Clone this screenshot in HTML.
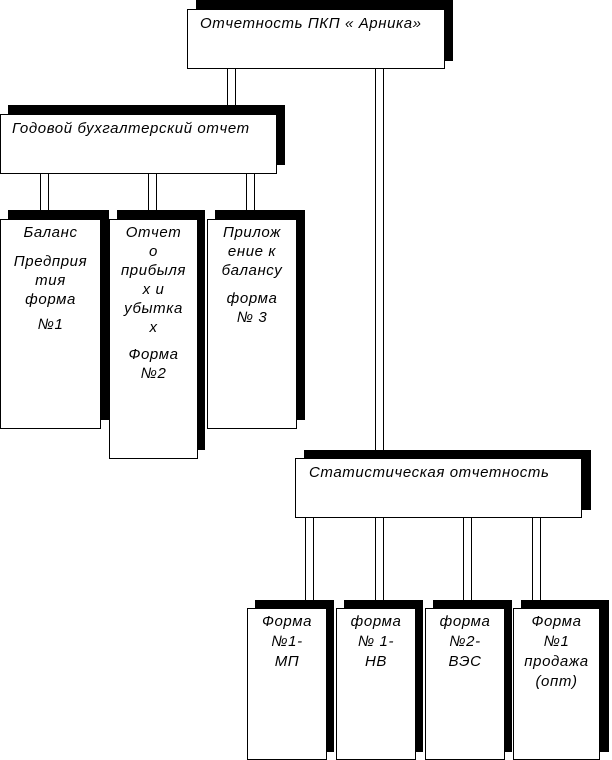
<!DOCTYPE html>
<html><head><meta charset="utf-8"><style>
body{margin:0;width:612px;height:760px;background:#fff;position:relative;overflow:hidden;font-family:"Liberation Sans","DejaVu Sans",sans-serif;font-style:italic;font-size:15px;color:#000}
.s{position:absolute;background:#000}
.b{position:absolute;background:#fff;border:1px solid #000;box-sizing:border-box}
.c{position:absolute;border-left:1px solid #000;border-right:1px solid #000;background:#fff;box-sizing:border-box}
.t{position:absolute;white-space:nowrap;letter-spacing:0.6px}
.p{position:absolute;left:0;right:0;text-align:center;line-height:19px;letter-spacing:0.6px}
</style></head><body>
<!-- connectors -->
<div class="c" style="left:227px;top:68px;width:9px;height:40px"></div>
<div class="c" style="left:375px;top:68px;width:9px;height:392px"></div>
<div class="c" style="left:40px;top:172px;width:9px;height:40px"></div>
<div class="c" style="left:148px;top:172px;width:9px;height:40px"></div>
<div class="c" style="left:246px;top:172px;width:9px;height:40px"></div>
<div class="c" style="left:305px;top:516px;width:9px;height:86px"></div>
<div class="c" style="left:375px;top:516px;width:9px;height:86px"></div>
<div class="c" style="left:463px;top:516px;width:9px;height:86px"></div>
<div class="c" style="left:532px;top:516px;width:9px;height:86px"></div>

<!-- top -->
<div class="s" style="left:196px;top:0;width:257px;height:61px"></div>
<div class="b" style="left:187px;top:9px;width:258px;height:60px"><div class="t" style="left:12px;top:5px">Отчетность ПКП « Арника»</div></div>

<!-- Годовой -->
<div class="s" style="left:8px;top:105px;width:277px;height:60px"></div>
<div class="b" style="left:0;top:114px;width:277px;height:60px"><div class="t" style="left:11px;top:5px">Годовой бухгалтерский отчет</div></div>

<!-- three boxes -->
<div class="s" style="left:8px;top:210px;width:101px;height:210px"></div>
<div class="b" style="left:0;top:219px;width:101px;height:210px">
<div class="p" style="top:3px">Баланс</div>
<div class="p" style="top:32px">Предприя<br>тия<br>форма</div>
<div class="p" style="top:95px">№1</div></div>

<div class="s" style="left:117px;top:210px;width:88px;height:240px"></div>
<div class="b" style="left:109px;top:219px;width:89px;height:240px">
<div class="p" style="top:3px">Отчет<br>о<br>прибыля<br>х и<br>убытка<br>х</div>
<div class="p" style="top:125px">Форма<br>№2</div></div>

<div class="s" style="left:215px;top:210px;width:90px;height:210px"></div>
<div class="b" style="left:207px;top:219px;width:90px;height:210px">
<div class="p" style="top:3px">Прилож<br>ение к<br>балансу</div>
<div class="p" style="top:69px">форма<br>№ 3</div></div>

<!-- stat -->
<div class="s" style="left:304px;top:450px;width:287px;height:60px"></div>
<div class="b" style="left:295px;top:458px;width:287px;height:60px"><div class="t" style="left:13px;top:5px">Статистическая отчетность</div></div>

<!-- bottom boxes -->
<div class="s" style="left:255px;top:600px;width:79px;height:152px"></div>
<div class="b" style="left:247px;top:608px;width:80px;height:152px"><div class="p" style="top:3px;line-height:20px">Форма<br>№1-<br>МП</div></div>
<div class="s" style="left:344px;top:600px;width:79px;height:152px"></div>
<div class="b" style="left:336px;top:608px;width:80px;height:152px"><div class="p" style="top:3px;line-height:20px">форма<br>№ 1-<br>НВ</div></div>
<div class="s" style="left:433px;top:600px;width:79px;height:152px"></div>
<div class="b" style="left:425px;top:608px;width:80px;height:152px"><div class="p" style="top:3px;line-height:20px">форма<br>№2-<br>ВЭС</div></div>
<div class="s" style="left:521px;top:600px;width:88px;height:152px"></div>
<div class="b" style="left:513px;top:608px;width:87px;height:152px"><div class="p" style="top:3px;line-height:20px">Форма<br>№1<br>продажа<br>(опт)</div></div>
</body></html>
